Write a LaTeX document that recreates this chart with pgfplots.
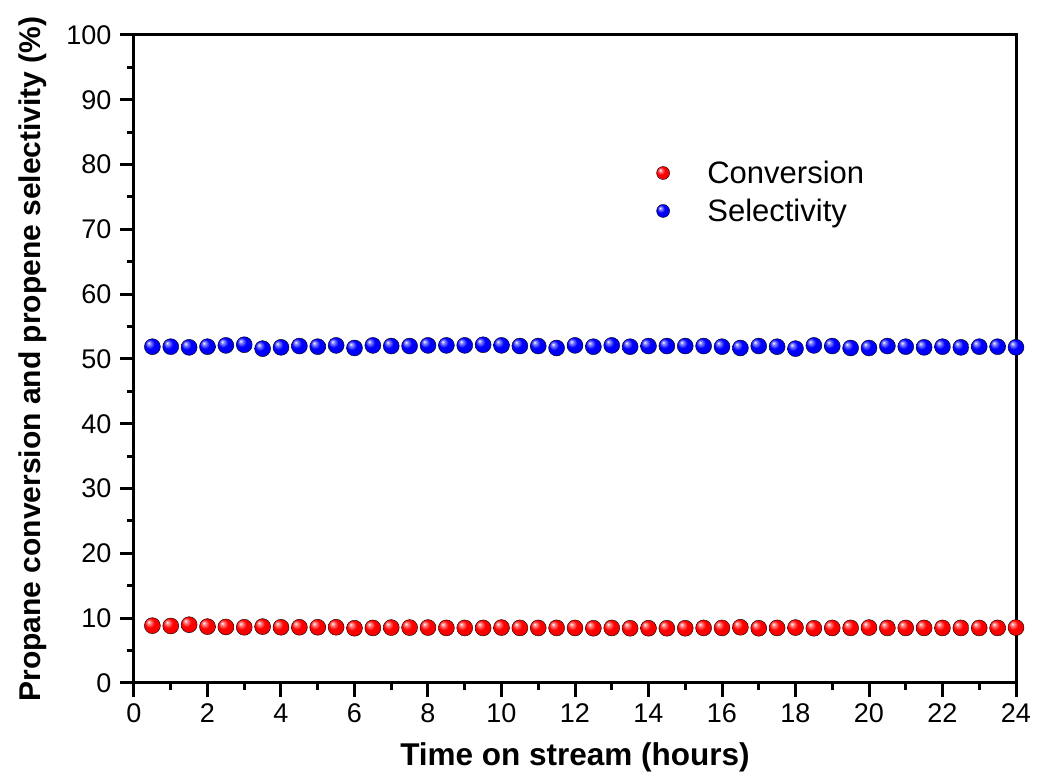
\documentclass[border=0pt]{standalone}
\usepackage{fontspec}
\setmainfont{Liberation Sans}
\usepackage{pgfplots}
\pgfplotsset{compat=1.18}

\pgfdeclareradialshading{redballsh}{\pgfpoint{-12bp}{12bp}}{color(0bp)=(white); color(5bp)=(red!45!white); color(15bp)=(red); color(40bp)=(red!92!black); color(50bp)=(red!80!black)}
\pgfdeclareradialshading{blueballsh}{\pgfpoint{-12bp}{12bp}}{color(0bp)=(white); color(5bp)=(blue!45!white); color(15bp)=(blue); color(40bp)=(blue!92!black); color(50bp)=(blue!80!black)}
\pgfdeclareplotmark{redball}{\shade[shading=redballsh] (0pt,0pt) circle (\pgfplotmarksize);}
\pgfdeclareplotmark{blueball}{\shade[shading=blueballsh] (0pt,0pt) circle (\pgfplotmarksize);}

\pgfplotstableread{
t conv sel
0.5 8.85 51.9
1.0 8.8 51.9
1.5 9.0 51.8
2.0 8.7 51.9
2.5 8.65 52.1
3.0 8.6 52.2
3.5 8.7 51.6
4.0 8.6 51.8
4.5 8.6 52.0
5.0 8.6 51.9
5.5 8.6 52.1
6.0 8.45 51.7
6.5 8.5 52.1
7.0 8.55 52.0
7.5 8.55 52.0
8.0 8.55 52.1
8.5 8.5 52.1
9.0 8.5 52.1
9.5 8.5 52.2
10.0 8.55 52.1
10.5 8.5 52.0
11.0 8.5 52.0
11.5 8.5 51.7
12.0 8.5 52.1
12.5 8.45 51.9
13.0 8.5 52.1
13.5 8.45 51.9
14.0 8.45 52.0
14.5 8.45 52.0
15.0 8.45 52.0
15.5 8.5 52.0
16.0 8.5 51.9
16.5 8.6 51.7
17.0 8.45 52.0
17.5 8.5 51.9
18.0 8.55 51.6
18.5 8.45 52.1
19.0 8.5 52.0
19.5 8.5 51.7
20.0 8.55 51.7
20.5 8.5 52.0
21.0 8.5 51.9
21.5 8.5 51.8
22.0 8.5 51.9
22.5 8.5 51.8
23.0 8.5 51.9
23.5 8.5 51.9
24.0 8.55 51.8
}\datatable

\begin{document}
\begin{tikzpicture}
\begin{axis}[
    scale only axis,
    width=882pt, height=648pt,
    xmin=0, xmax=24, ymin=0, ymax=100,
    xtick={0,2,...,24}, ytick={0,10,...,100},
    minor x tick num=1, minor y tick num=1,
    xtick pos=bottom, ytick pos=left,
    tick align=outside,
    major tick length=14pt, minor tick length=7pt,
    every tick/.style={line width=3pt, black},
    axis line style={line width=3pt},
    /pgf/number format/assume math mode=true,
    ticklabel style={font=\fontsize{27}{30}\selectfont},
    xticklabel style={yshift=-3pt},
    yticklabel style={xshift=-5pt},
    xlabel={Time on stream (hours)},
    ylabel={Propane conversion and propene selectivity (\%)},
    xlabel style={font=\fontsize{31.5}{34}\selectfont\bfseries, at={(axis description cs:0.5,-0.114)}, anchor=center},
    ylabel style={font=\fontsize{30}{34}\selectfont\bfseries, at={(axis description cs:-0.1145,0.5)}, anchor=center},
    legend style={draw=none, fill=none, at={(rel axis cs:0.587,0.812)}, anchor=north west,
        font=\fontsize{31}{36}\selectfont, row sep=10pt},
    legend cell align=left,
    legend image code/.code={\draw[#1, mark size=6.5pt] plot coordinates {(0pt,0pt)}; \path (-8pt,0pt) (42pt,0pt);},
]
\addplot[only marks, mark=redball, mark size=8pt] table[x=t, y=conv] {\datatable};
\addlegendentry{Conversion}
\addplot[only marks, mark=blueball, mark size=8pt] table[x=t, y=sel] {\datatable};
\addlegendentry{Selectivity}
\end{axis}
\path (current axis.south west) ++(-134pt,-93pt) rectangle ++(1037pt,776pt);
\end{tikzpicture}
\end{document}
